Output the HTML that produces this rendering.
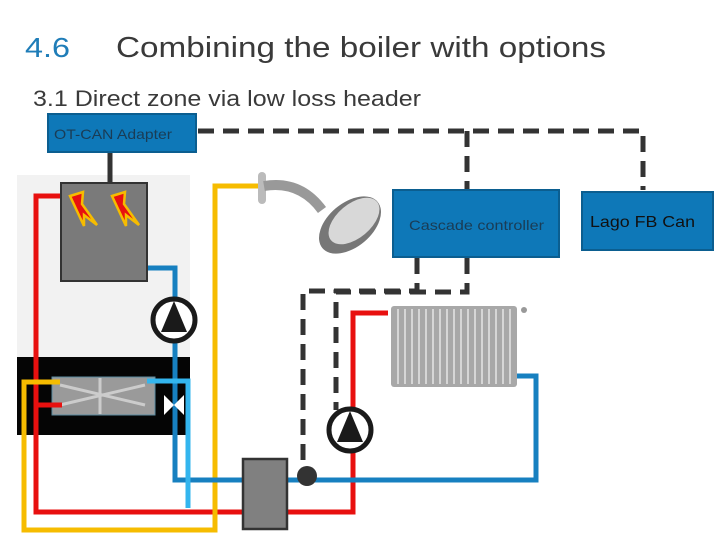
<!DOCTYPE html>
<html><head><style>
html,body{margin:0;padding:0;background:#fff;width:720px;height:540px;overflow:hidden}
svg{display:block}
text{font-family:"Liberation Sans",sans-serif}
</style></head><body>
<svg width="720" height="540" viewBox="0 0 720 540" xmlns="http://www.w3.org/2000/svg">
<text x="25" y="57" font-size="28" fill="#1f7db8" textLength="45" lengthAdjust="spacingAndGlyphs">4.6</text>
<text x="116" y="57" font-size="29" fill="#3a3a3a" textLength="490" lengthAdjust="spacingAndGlyphs">Combining the boiler with options</text>
<text x="33" y="106" font-size="22" fill="#3a3a3a" textLength="388" lengthAdjust="spacingAndGlyphs">3.1 Direct zone via low loss header</text>

<!-- boiler panel -->
<rect x="17" y="175" width="173" height="183" fill="#f2f2f2"/>
<rect x="17" y="357" width="173" height="78" fill="#050505"/>
<rect x="52" y="377" width="103" height="38" fill="#9a9a9a" stroke="#5a8aa0"/>
<path d="M60 385 L145 405 M60 405 L145 385 M100 378 V414" stroke="#ccc" stroke-width="3"/>

<!-- dashed control lines -->
<g stroke="#333" stroke-width="5" fill="none" stroke-dasharray="16 9">
<path d="M198 131 H643 V190"/>
<path d="M467 131 V190"/>
<path d="M417 258 V291 H303 V462"/>
<path d="M467 258 V292 H336 V410"/>
</g>
<line x1="110" y1="152" x2="110" y2="183" stroke="#333" stroke-width="5"/>

<!-- pipes -->
<g fill="none" stroke-width="5">
<path d="M62 196 H36 V512 H353 V313 H388" stroke="#e8100f"/>
<path d="M36 405 H62" stroke="#e8100f"/>
<path d="M262 186 H215 V530 H24 V382 H60" stroke="#f6bc00"/>
<path d="M147 268 H175 V480 H536 V376 H515" stroke="#1780c0"/>
<path d="M147 381 H188 V508" stroke="#33b5ee"/>
</g>

<!-- grey box with bolts -->
<rect x="61" y="183" width="86" height="98" fill="#7a7a7a" stroke="#333" stroke-width="2"/>
<path d="M70 196 L83 192 L82 204 L97 225 L84 215 L84 226 Z" fill="#e8100f" stroke="#f6bc00" stroke-width="2.5"/>
<path d="M112 196 L125 192 L124 204 L139 225 L126 215 L126 226 Z" fill="#e8100f" stroke="#f6bc00" stroke-width="2.5"/>

<!-- pumps -->
<circle cx="174" cy="320" r="21" fill="#fff" stroke="#1a1a1a" stroke-width="5"/>
<path d="M174 301 L161 332 H187 Z" fill="#1a1a1a"/>
<circle cx="350" cy="430" r="21" fill="#fff" stroke="#1a1a1a" stroke-width="5"/>
<path d="M350 411 L337 442 H363 Z" fill="#1a1a1a"/>
<!-- valve -->
<path d="M164 395 L184 415 V395 L164 415 Z" fill="#fff"/>

<!-- header box and dot -->
<rect x="243" y="459" width="44" height="70" fill="#808080" stroke="#333" stroke-width="2.5"/>
<circle cx="307" cy="476" r="10" fill="#333"/>

<!-- radiator -->
<rect x="391" y="306" width="126" height="81" rx="3" fill="#a8a8a8"/>
<g stroke="#d6d6d6" stroke-width="2">
<path d="M398 309V384M405 309V384M412 309V384M419 309V384M426 309V384M433 309V384M440 309V384M447 309V384M454 309V384M461 309V384M468 309V384M475 309V384M482 309V384M489 309V384M496 309V384M503 309V384M510 309V384"/>
</g>
<circle cx="524" cy="310" r="3" fill="#999"/>

<!-- shower -->
<rect x="258" y="172" width="8" height="32" rx="4" fill="#bbb"/>
<path d="M264 186 Q300 180 322 210" stroke="#999" stroke-width="10" fill="none"/>
<ellipse cx="350" cy="225" rx="36" ry="22" transform="rotate(-40 350 225)" fill="#777"/>
<ellipse cx="354" cy="221" rx="30" ry="17" transform="rotate(-40 354 221)" fill="#d8d8d8"/>

<!-- boxes -->
<rect x="48" y="114" width="148" height="38" fill="#0e78b8" stroke="#0b5e90" stroke-width="2"/>
<text x="54" y="139" font-size="14" fill="#1a3c55" textLength="118" lengthAdjust="spacingAndGlyphs">OT-CAN Adapter</text>
<rect x="393" y="190" width="166" height="67" fill="#0e78b8" stroke="#0b5e90" stroke-width="2"/>
<text x="409" y="230" font-size="14" fill="#1a3c55" textLength="135" lengthAdjust="spacingAndGlyphs">Cascade controller</text>
<rect x="582" y="192" width="131" height="58" fill="#0e78b8" stroke="#0b5e90" stroke-width="2"/>
<text x="590" y="227" font-size="16" fill="#111" textLength="105" lengthAdjust="spacingAndGlyphs">Lago FB Can</text>
</svg>
</body></html>
